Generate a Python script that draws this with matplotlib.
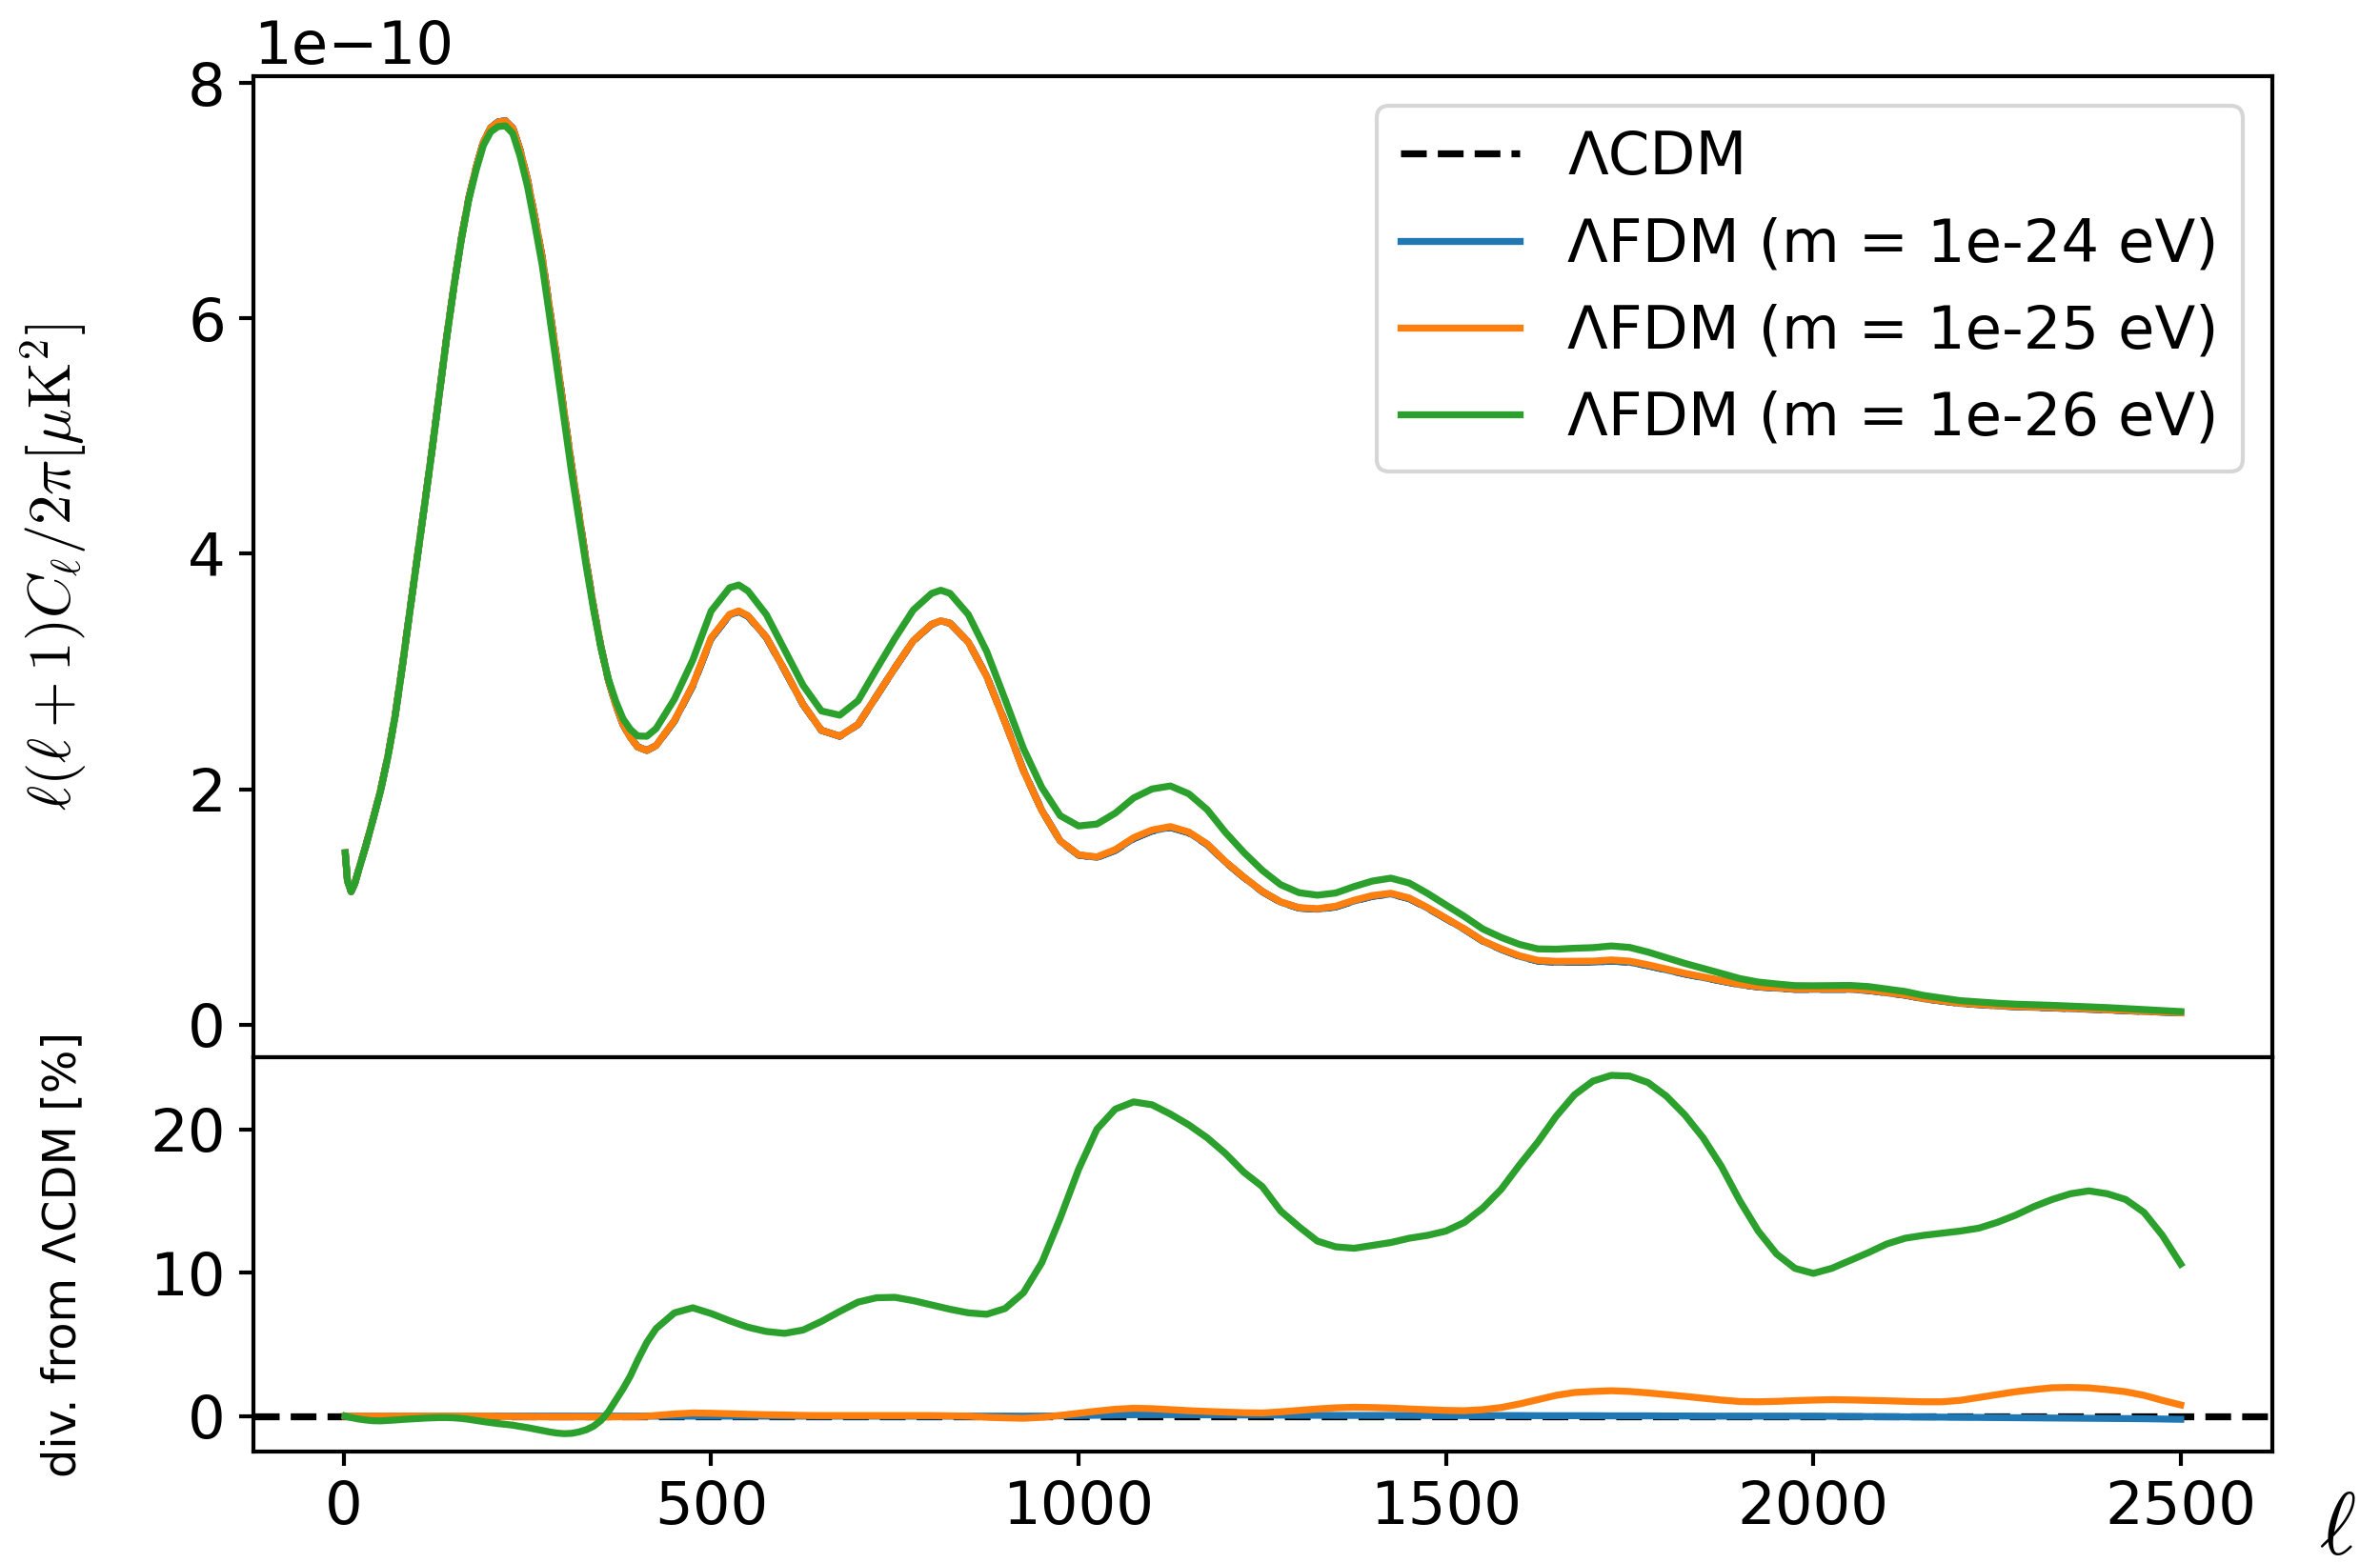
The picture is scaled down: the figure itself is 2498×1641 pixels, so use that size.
import numpy as np
import matplotlib
matplotlib.use("Agg")
import matplotlib.pyplot as plt

plt.rcParams['font.size'] = 15
plt.rcParams['mathtext.fontset'] = 'cm'
plt.rcParams['lines.linewidth'] = 1.75
plt.rcParams['axes.linewidth'] = 1.0
plt.rcParams['xtick.major.width'] = 1.0
plt.rcParams['ytick.major.width'] = 1.0

# multipoles (denser where the first peak sits)
ell = [2, 5, 10, 15, 20, 30, 40, 50, 60, 70, 80, 90, 100,
       110, 120, 130, 140, 150, 160, 170, 180, 190, 200,
       210, 220, 230, 240, 250, 260, 270, 280, 290, 300,
       310, 320, 330, 340, 350, 360, 370, 380, 390, 400,
       412.5, 425, 450, 475, 500, 525, 537.5, 550, 575, 600,
       625, 650, 675, 700, 725, 750, 775, 800, 812.5, 825,
       850, 875, 900, 925, 950, 975, 1000,
       1025, 1050, 1075, 1100, 1125, 1150, 1175, 1200, 1225, 1250,
       1275, 1300, 1325, 1350, 1375, 1400, 1425, 1450, 1475, 1500,
       1525, 1550, 1575, 1600, 1625, 1650, 1675, 1700, 1725, 1750,
       1775, 1800, 1825, 1850, 1875, 1900, 1925, 1950, 1975, 2000,
       2025, 2050, 2075, 2100, 2125, 2150, 2175, 2200, 2225, 2250,
       2275, 2300, 2325, 2350, 2375, 2400, 2425, 2450, 2475, 2500]

# LCDM spectrum, units of 1e-10
d_lcdm = [1.46, 1.22, 1.13, 1.20, 1.31, 1.52, 1.75, 1.99, 2.28, 2.63, 3.06, 3.52, 3.97,
          4.42, 4.88, 5.36, 5.84, 6.28, 6.68, 7.02, 7.28, 7.50, 7.62,
          7.67, 7.68, 7.62, 7.43, 7.18, 6.86, 6.52, 6.09, 5.65, 5.20,
          4.75, 4.34, 3.93, 3.55, 3.21, 2.93, 2.72, 2.55, 2.44, 2.36,
          2.33, 2.37, 2.58, 2.88, 3.28, 3.48, 3.51, 3.47, 3.29, 3.01,
          2.72, 2.50, 2.45, 2.55, 2.79, 3.03, 3.26, 3.40, 3.43, 3.41,
          3.25, 2.96, 2.57, 2.16, 1.82, 1.56, 1.44,
          1.42, 1.48, 1.58, 1.645, 1.675, 1.63, 1.53, 1.38, 1.25, 1.13,
          1.04, 0.99, 0.98, 1.00, 1.05, 1.09, 1.11, 1.07, 0.99, 0.90,
          0.81, 0.71, 0.64, 0.58, 0.54, 0.53, 0.53, 0.53, 0.54, 0.53,
          0.50, 0.465, 0.43, 0.40, 0.37, 0.34, 0.32, 0.31, 0.30, 0.30,
          0.30, 0.30, 0.29, 0.27, 0.25, 0.22, 0.20, 0.18, 0.17, 0.16,
          0.152, 0.147, 0.142, 0.136, 0.131, 0.125, 0.118, 0.112, 0.106, 0.10]

# deviation from LCDM in percent
dev_24 = [0.0] * 43 + \
         [0, 0, 0, 0, 0, 0, 0, 0, 0, 0,
          0, 0, 0, 0, 0, 0, 0, 0, 0, 0,
          0, 0, 0, 0, 0, 0.02, 0.04,
          0.06, 0.08, 0.1, 0.1, 0.1, 0.1, 0.09, 0.08, 0.08, 0.08,
          0.07, 0.06, 0.06, 0.05, 0.05, 0.05, 0.05, 0.05, 0.04, 0.04,
          0.04, 0.04, 0.04, 0.04, 0.03, 0.03, 0.03, 0.03, 0.02, 0.02,
          0.02, 0.01, 0.01, 0.0, 0.0, 0.0, 0.0, 0.0, 0.0, 0.0,
          -0.01, -0.02, -0.03, -0.04, -0.05, -0.06, -0.07, -0.08, -0.09, -0.1,
          -0.11, -0.12, -0.13, -0.14, -0.15, -0.16, -0.17, -0.18, -0.2, -0.22]

dev_25 = [0, 0, 0, 0, 0, 0, 0, 0, 0, 0, 0, 0, 0,
          0, 0, 0, 0, 0, 0, 0, 0, 0, 0,
          -0.02, -0.02, -0.03, -0.03, -0.04, -0.04, -0.05, -0.05, -0.05, -0.05,
          -0.05, -0.05, -0.05, -0.05, -0.05, -0.05, -0.05, -0.04, -0.04, -0.03,
          -0.01, 0.05, 0.15, 0.22, 0.2, 0.17, 0.15, 0.13, 0.1, 0.08,
          0.05, 0.04, 0.04, 0.04, 0.04, 0.04, 0.04, 0.04, 0.03, 0.02,
          0.0, -0.08, -0.12, -0.15, -0.08, 0.05, 0.2,
          0.35, 0.48, 0.55, 0.52, 0.45, 0.38, 0.33, 0.28, 0.24, 0.22,
          0.3, 0.4, 0.5, 0.58, 0.62, 0.6, 0.56, 0.5, 0.45, 0.4,
          0.38, 0.45, 0.6, 0.85, 1.15, 1.45, 1.65, 1.72, 1.77, 1.72,
          1.62, 1.5, 1.38, 1.25, 1.12, 1.02, 1.0, 1.03, 1.08, 1.12,
          1.15, 1.13, 1.1, 1.07, 1.03, 1.0, 1.0, 1.1, 1.3, 1.5,
          1.7, 1.85, 1.98, 2.0, 1.97, 1.85, 1.7, 1.45, 1.1, 0.78]

dev_26 = [0.0, -0.05, -0.1, -0.15, -0.2, -0.27, -0.32, -0.33, -0.3, -0.27, -0.23, -0.2, -0.17,
          -0.14, -0.12, -0.1, -0.1, -0.12, -0.16, -0.22, -0.3, -0.38, -0.45,
          -0.52, -0.57, -0.63, -0.72, -0.8, -0.9, -1.0, -1.1, -1.18, -1.22,
          -1.2, -1.1, -0.95, -0.7, -0.3, 0.3, 1.1, 1.9, 2.8, 3.9,
          5.15, 6.1, 7.2, 7.55, 7.15, 6.65, 6.42, 6.2, 5.9, 5.77,
          6.0, 6.6, 7.3, 7.95, 8.25, 8.28, 8.05, 7.75, 7.6, 7.45,
          7.2, 7.1, 7.5, 8.6, 10.7, 13.8, 17.2,
          20.0, 21.4, 21.9, 21.7, 21.05, 20.3, 19.4, 18.3, 17.0, 16.0,
          14.3, 13.2, 12.2, 11.8, 11.7, 11.9, 12.1, 12.4, 12.6, 12.9,
          13.5, 14.5, 15.8, 17.5, 19.1, 20.9, 22.4, 23.35, 23.75, 23.7,
          23.25, 22.3, 21.0, 19.4, 17.4, 15.0, 12.9, 11.3, 10.3, 9.95,
          10.3, 10.85, 11.4, 12.0, 12.4, 12.6, 12.75, 12.9, 13.1, 13.5,
          14.0, 14.6, 15.1, 15.5, 15.7, 15.5, 15.1, 14.2, 12.6, 10.6]

masses = ['1e-24', '1e-25', '1e-26']
devs = [dev_24, dev_25, dev_26]
colors = ['C0', 'C1', 'C2']

for d in [d_lcdm] + devs:
    assert len(d) == len(ell)

lcdm = np.array(d_lcdm) * 1e-10

fig, (ax1, ax2) = plt.subplots(2, 1, sharex=True, figsize=(8.327, 5.47),
                               gridspec_kw={'height_ratios': [2.49, 1], 'hspace': 0})
fig.subplots_adjust(left=0.1065, right=0.9548, top=0.9513, bottom=0.0713)

# top: spectra
ax1.plot(ell, lcdm, 'k--', label='ΛCDM')
for m, dev, c in zip(masses, devs, colors):
    fdm = lcdm * (1 + np.array(dev) / 100)
    ax1.plot(ell, fdm, color=c, label=f'ΛFDM (m = {m} eV)')
ax1.set_ylabel(r'$\ell(\ell+1)C_\ell/2\pi[\mu\mathrm{K}^2]$')
ax1.yaxis.set_label_coords(-0.0812, 0.5)
ax1.legend(loc='upper right')

# bottom: relative deviation
ax2.axhline(0, color='k', ls='--')
for dev, c in zip(devs, colors):
    ax2.plot(ell, dev, color=c)
ax2.set_ylabel('div. from ΛCDM [%]', fontsize=11.5)
ax2.yaxis.set_label_coords(-0.0835, 0.5)
ax2.set_xlabel(r'$\ell$', fontsize=22)
ax2.xaxis.set_label_coords(1.032, -0.09)

plt.savefig('out.png', dpi=300)
plt.close()
